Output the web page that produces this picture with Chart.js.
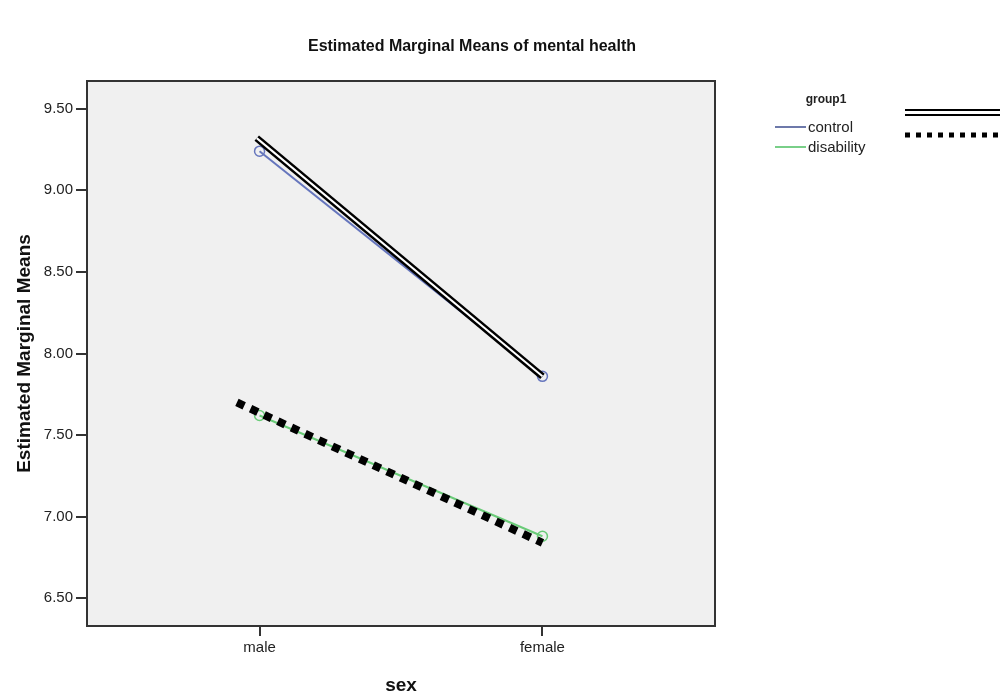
<html>
  <head>
    <meta http-equiv="Content-Type" content="text/html; charset=UTF-8" />
    <script src="https://cdn.jsdelivr.net/npm/chart.js@4.4.1/dist/chart.umd.min.js"></script>
    <style>
      body { margin: 0; background: #fff; }
      #wrap { width: 1003px; height: 699px; }
    </style>
  </head>
  <body>
    <div id="wrap"><canvas id="emm-chart" width="1003" height="699"></canvas></div>

    <script type="text/javascript">
      // categories on the x axis (sex)
      const categories = ['male', 'female']

      // estimated marginal means per group1
      const control = [9.24, 7.86]
      const disability = [7.62, 6.88]

      // y tick labels
      const yTicks = [6.5, 7.0, 7.5, 8.0, 8.5, 9.0, 9.5]

      // hand drawn marks over the plot (x = category index)
      const doubleLineX = [-0.01, 1.0]
      const doubleLineY = [9.32, 7.86]
      const dottedLineX = [-0.08, 1.0]
      const dottedLineY = [7.70, 6.84]

      const font = "'Liberation Sans', Arial, sans-serif"
      const blue = '#6676bd'
      const green = '#6acb78'

      const toPoints = (xs, ys) => xs.map((x, i) => ({x: x, y: ys[i]}))

      // plot background, frame, title and legend
      const spssFrame = {
        id: 'spssFrame',
        beforeDraw(chart) {
          const {ctx, chartArea: a} = chart
          ctx.save()
          ctx.fillStyle = '#f0f0f0'
          ctx.fillRect(a.left, a.top, a.right - a.left, a.bottom - a.top)
          ctx.restore()
        },
        afterDraw(chart) {
          const {ctx, chartArea: a} = chart
          ctx.save()
          ctx.strokeStyle = '#333'
          ctx.lineWidth = 2
          ctx.strokeRect(a.left, a.top, a.right - a.left, a.bottom - a.top)

          // title
          ctx.fillStyle = '#111'
          ctx.font = 'bold 16px ' + font
          ctx.textAlign = 'center'
          ctx.textBaseline = 'middle'
          ctx.fillText('Estimated Marginal Means of mental health', 472, 47)

          // legend
          ctx.font = 'bold 12px ' + font
          ctx.fillStyle = '#222'
          ctx.fillText('group1', 826, 100)
          ctx.textAlign = 'left'
          ctx.font = '15px ' + font
          ctx.fillText('control', 808, 128)
          ctx.fillText('disability', 808, 148)
          ctx.lineWidth = 1.5
          ctx.strokeStyle = '#3d4c8e'
          ctx.beginPath(); ctx.moveTo(775, 127); ctx.lineTo(806, 127); ctx.stroke()
          ctx.strokeStyle = '#4cbf60'
          ctx.beginPath(); ctx.moveTo(775, 147); ctx.lineTo(806, 147); ctx.stroke()

          // samples of the hand drawn marks
          ctx.strokeStyle = '#000'
          ctx.lineWidth = 2
          ctx.beginPath(); ctx.moveTo(905, 110); ctx.lineTo(1000, 110); ctx.stroke()
          ctx.beginPath(); ctx.moveTo(905, 115); ctx.lineTo(1000, 115); ctx.stroke()
          ctx.lineWidth = 5
          ctx.setLineDash([5, 6])
          ctx.beginPath(); ctx.moveTo(905, 135); ctx.lineTo(1000, 135); ctx.stroke()
          ctx.restore()
        }
      }

      const chartData = {
        datasets: [{
          label: 'double-inner',
          data: toPoints(doubleLineX, doubleLineY),
          borderColor: '#fff',
          borderWidth: 2,
          pointRadius: 0,
          order: 0
        }, {
          label: 'double-outer',
          data: toPoints(doubleLineX, doubleLineY),
          borderColor: '#000',
          borderWidth: 7,
          borderCapStyle: 'butt',
          pointRadius: 0,
          order: 1
        }, {
          label: 'dotted',
          data: toPoints(dottedLineX, dottedLineY),
          borderColor: '#000',
          borderWidth: 8,
          borderDash: [8, 7],
          borderCapStyle: 'butt',
          pointRadius: 0,
          order: 2
        }, {
          label: 'control',
          data: control.map((v, i) => ({x: i, y: v})),
          borderColor: blue,
          borderWidth: 2,
          pointRadius: 5,
          pointBorderWidth: 1.5,
          pointBackgroundColor: 'rgba(0,0,0,0)',
          pointBorderColor: blue,
          order: 3
        }, {
          label: 'disability',
          data: disability.map((v, i) => ({x: i, y: v})),
          borderColor: green,
          borderWidth: 2,
          pointRadius: 5,
          pointBorderWidth: 1.5,
          pointBackgroundColor: 'rgba(0,0,0,0)',
          pointBorderColor: green,
          order: 4
        }]
      }

      new Chart(document.getElementById('emm-chart').getContext('2d'), {
        type: 'line',
        data: chartData,
        plugins: [spssFrame],
        options: {
          responsive: false,
          animation: false,
          layout: { padding: { left: 0, top: 81, right: 288, bottom: 0 } },
          plugins: {
            legend: { display: false },
            title: { display: false },
            tooltip: { enabled: false }
          },
          scales: {
            x: {
              type: 'linear',
              min: -0.61,
              max: 1.61,
              afterBuildTicks: s => { s.ticks = categories.map((c, i) => ({value: i})) },
              afterFit: s => { s.height = 73 },
              ticks: {
                callback: v => categories[v],
                color: '#222',
                font: { family: font, size: 15 },
                padding: 3,
                maxRotation: 0
              },
              grid: { drawOnChartArea: false, drawTicks: true, tickLength: 10, color: '#333', lineWidth: 2 },
              border: { display: false },
              title: {
                display: true,
                text: 'sex',
                color: '#111',
                font: { family: font, size: 19, weight: 'bold' },
                padding: { top: 0, bottom: 2 }
              }
            },
            y: {
              min: 6.33,
              max: 9.67,
              afterBuildTicks: s => { s.ticks = yTicks.map(v => ({value: v})) },
              afterFit: s => { s.width = 87 },
              ticks: {
                callback: v => v.toFixed(2),
                color: '#222',
                font: { family: font, size: 15 },
                padding: 3
              },
              grid: { drawOnChartArea: false, drawTicks: true, tickLength: 11, color: '#333', lineWidth: 2 },
              border: { display: false },
              title: {
                display: true,
                text: 'Estimated Marginal Means',
                color: '#111',
                font: { family: font, size: 19, weight: 'bold' },
                padding: { top: 13, bottom: 0 }
              }
            }
          }
        }
      })
    </script>
  </body>
</html>
